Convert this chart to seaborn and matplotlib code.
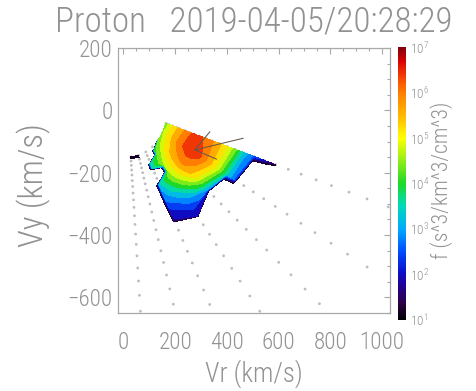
import numpy as np
import pandas as pd
import matplotlib
matplotlib.use("Agg")
import matplotlib.pyplot as plt
import seaborn as sns
import matplotlib.font_manager as fm
from matplotlib.colors import LinearSegmentedColormap, Normalize, LogNorm
from matplotlib.ticker import MultipleLocator, FixedLocator
from matplotlib.cm import ScalarMappable

# ---------------- data ----------------
title_text = "Proton   2019-04-05/20:28:29"
x_label = "Vr (km/s)"
y_label = "Vy (km/s)"
cbar_label = "f (s^3/km^3/cm^3)"

frame_origin_vr = 17.0
frame_origin_vy = 4.0
anode_angles_deg = [-17.3, -28.7, -40.1, -51.8, -63.2, -74.3, -85.7]
speed_bins = [154, 167, 181, 196, 212, 230, 249, 270, 292, 316, 343, 371,
              402, 435, 472, 511, 553, 599, 650, 702, 763, 825, 896, 969, 1055]
n_measured = 18  # speed bins that carry f values

NC = -8.0  # log10 f where there are no counts
logf_anode1 = [4.4, 4.7, 5.0, 5.3, 5.55, 5.8, 6.1, 6.3, 6.3, 6.1, 5.85, 5.5, 5.0, 4.35, 3.2, 2.5, 2.0, 1.3]
logf_anode2 = [4.5, 4.85, 5.2, 5.45, 5.75, 6.0, 6.3, 6.5, 6.5, 6.3, 5.85, 5.35, 4.6, 3.5, 2.5, NC, NC, NC]
logf_anode3 = [4.3, 4.6, 4.9, 5.2, 5.4, 5.6, 5.7, 5.8, 5.7, 5.45, 5.0, 4.2, 3.0, NC, NC, NC, NC, NC]
logf_anode4 = [NC, 4.0, 4.2, 4.35, 4.5, 4.6, 4.6, 4.5, 4.3, 3.9, 3.3, 2.8, 2.3, 1.9, NC, NC, NC, NC]
logf_anode5 = [NC, NC, NC, 3.5, 3.5, NC, NC, 3.3, 3.0, 2.75, 2.45, 2.0, 1.7, NC, NC, NC, NC, NC]
logf_anode6 = [1.4, 0.5, NC, NC, NC, NC, NC, NC, NC, NC, NC, NC, NC, NC, NC, NC, NC, NC]
logf_anode7 = [1.4, 0.5, NC, NC, NC, NC, NC, NC, NC, NC, NC, NC, NC, NC, NC, NC, NC, NC]

vector_origin_vr = 276.6
vector_origin_vy = -126.9
vector_tip_vr = [334.6, 463.4, 360.5]
vector_tip_vy = [-68.3, -89.4, -156.7]

x_ticks = [0, 200, 400, 600, 800, 1000]
y_ticks = [-600, -400, -200, 0, 200]
cbar_exponents = [1, 2, 3, 4, 5, 6, 7]

# ---------------- style ----------------
sns.set_theme(style="white")
names = {f.name for f in fm.fontManager.ttflist}
family = next((n for n in ["Roboto Condensed", "Liberation Sans Narrow", "Roboto", "DejaVu Sans"]
               if n in names), "DejaVu Sans")
plt.rcParams["font.family"] = [family, "DejaVu Sans"]
plt.rcParams["font.weight"] = "light"
TXT = "#929292"
AXC = "#a8a8a8"

fig = plt.figure(figsize=(4.77, 3.91), dpi=100)
fig.patch.set_facecolor("white")
renderer = fig.canvas.get_renderer()


def fit_size(text, target_px):
    t = fig.text(0, 0, text, fontsize=10)
    bb = t.get_window_extent(renderer)
    t.remove()
    return 10.0 * target_px / bb.width


W, H = 477.0, 391.0
ax = fig.add_axes([118 / W, 1 - 313 / H, 272 / W, 265 / H])
cax = fig.add_axes([398 / W, 1 - 320 / H, 8 / W, 273 / H])

cmap = LinearSegmentedColormap.from_list("idl_rainbow", [
    (0.00, (0.00, 0.00, 0.00)),
    (0.06, (0.18, 0.00, 0.28)),
    (0.12, (0.14, 0.00, 0.55)),
    (0.17, (0.05, 0.05, 0.78)),
    (0.25, (0.00, 0.30, 1.00)),
    (0.33, (0.00, 0.66, 1.00)),
    (0.42, (0.00, 0.86, 0.72)),
    (0.50, (0.12, 0.85, 0.15)),
    (0.58, (0.55, 0.93, 0.10)),
    (0.667, (1.00, 1.00, 0.00)),
    (0.75, (1.00, 0.72, 0.00)),
    (0.833, (1.00, 0.50, 0.00)),
    (0.90, (0.95, 0.22, 0.02)),
    (0.95, (0.85, 0.00, 0.00)),
    (1.00, (0.50, 0.00, 0.05)),
])

# measurement grid
ang = np.deg2rad(np.array(anode_angles_deg))
spd = np.array(speed_bins, dtype=float)

# gray dots: all bins
R_all, T_all = np.meshgrid(spd, ang)
dots = pd.DataFrame({
    "vr": (frame_origin_vr + R_all * np.cos(T_all)).ravel(),
    "vy": (frame_origin_vy + R_all * np.sin(T_all)).ravel(),
})
xlim = (-21, 1031)
ylim = (-650, 200)
dots = dots[(dots.vr > xlim[0]) & (dots.vr < xlim[1]) & (dots.vy > ylim[0]) & (dots.vy < ylim[1])]
sns.scatterplot(data=dots, x="vr", y="vy", ax=ax, s=4, color="#bdbdbd",
                edgecolor="none", linewidth=0, zorder=1, legend=False)

# filled contours
R, T = np.meshgrid(spd[:n_measured], ang)
X = frame_origin_vr + R * np.cos(T)
Y = frame_origin_vy + R * np.sin(T)
Z = np.array([logf_anode1, logf_anode2, logf_anode3, logf_anode4,
              logf_anode5, logf_anode6, logf_anode7])
levels = np.arange(1.0, 7.001, 0.4)
ax.contourf(X, Y, Z, levels=levels, cmap=cmap, norm=Normalize(1, 7), zorder=2)

# vectors from the peak
for tx, ty in zip(vector_tip_vr, vector_tip_vy):
    ax.plot([vector_origin_vr, tx], [vector_origin_vy, ty], color="#66584a", lw=0.75, zorder=3)

ax.set_xlim(*xlim)
ax.set_ylim(*ylim)
ax.set_xlabel("")
ax.set_ylabel("")
ax.xaxis.set_major_locator(FixedLocator(x_ticks))
ax.yaxis.set_major_locator(FixedLocator(y_ticks))
ax.xaxis.set_minor_locator(MultipleLocator(50))
ax.yaxis.set_minor_locator(MultipleLocator(50))
tick_fs = fit_size("200", 34.0)
ax.tick_params(which="both", direction="in", top=True, right=True, color=AXC, width=0.8)
ax.tick_params(which="major", length=4.5)
ax.tick_params(which="minor", length=2.2)
ax.tick_params(axis="x", labelsize=tick_fs, labelcolor=TXT, pad=13)
ax.tick_params(axis="y", labelsize=tick_fs, labelcolor=TXT, pad=4)
for s in ax.spines.values():
    s.set_color(AXC)
    s.set_linewidth(0.9)
ax.set_facecolor("white")

# colorbar
sm = ScalarMappable(norm=LogNorm(10 ** cbar_exponents[0], 10 ** cbar_exponents[-1]), cmap=cmap)
cb = fig.colorbar(sm, cax=cax)
cb.set_ticks([10.0 ** e for e in cbar_exponents])
cb.set_ticklabels([r"$\mathregular{10^{%d}}$" % e for e in cbar_exponents])
cax.yaxis.set_minor_locator(FixedLocator([]))
cax.tick_params(which="both", length=0, labelsize=9.5, labelcolor=TXT, pad=3)
cb.outline.set_visible(False)

# texts
fig.text(254 / W, 1 - 22 / H, title_text, ha="center", va="center",
         fontsize=fit_size(title_text, 398), color=TXT)
fig.text(254 / W, 1 - 374 / H, x_label, ha="center", va="center",
         fontsize=fit_size(x_label, 98), color=TXT)
fig.text(34 / W, 1 - 185 / H, y_label, ha="center", va="center", rotation=90,
         fontsize=fit_size(y_label, 124), color=TXT)
fig.text(442 / W, 1 - 180 / H, cbar_label, ha="center", va="center", rotation=90,
         fontsize=fit_size(cbar_label, 158), color=TXT)

fig.savefig("out.png", dpi=100, facecolor="white")
